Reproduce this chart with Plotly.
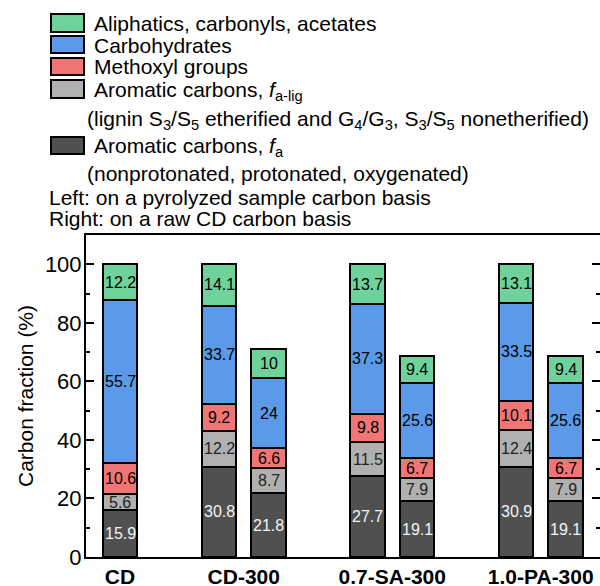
import plotly.graph_objects as go

# ---------------- data ----------------
samples = ["CD", "CD-300", "0.7-SA-300", "1.0-PA-300"]
bar_sample = [0, 1, 1, 2, 2, 3, 3]          # which sample each bar belongs to
bar_basis = ["left", "left", "right", "left", "right", "left", "right"]

aromatic_fa = [15.9, 30.8, 21.8, 27.7, 19.1, 30.9, 19.1]
aromatic_lig = [5.6, 12.2, 8.7, 11.5, 7.9, 12.4, 7.9]
methoxyl = [10.6, 9.2, 6.6, 9.8, 6.7, 10.1, 6.7]
carbohydrates = [55.7, 33.7, 24, 37.3, 25.6, 33.5, 25.6]
aliphatics = [12.2, 14.1, 10, 13.7, 9.4, 13.1, 9.4]

y_ticks = [0, 20, 40, 60, 80, 100]

legend_lines = [
    "Aliphatics, carbonyls, acetates",
    "Carbohydrates",
    "Methoxyl groups",
    "Aromatic carbons, <i>f</i><sub>a-lig</sub>",
    "(lignin S<sub>3</sub>/S<sub>5</sub> etherified and G<sub>4</sub>/G<sub>3</sub>, S<sub>3</sub>/S<sub>5</sub> nonetherified)",
    "Aromatic carbons, <i>f</i><sub>a</sub>",
    "(nonprotonated, protonated, oxygenated)",
    "Left: on a pyrolyzed sample carbon basis",
    "Right: on a raw CD carbon basis",
]

# ---------------- style ----------------
FONT = "Arial, 'Liberation Sans', sans-serif"
C_GREEN = "#6FD29B"
C_BLUE = "#5B9AE8"
C_RED = "#F27575"
C_LGRAY = "#B0B0B0"
C_DGRAY = "#505050"

W, H = 600, 586
ML, MR, MT, MB = 86, 0, 235, 29
PW, PH = W - ML - MR, H - MT - MB

# slot positions (layout): one empty slot between sample groups
pos = []
for g, b in zip(bar_sample, bar_basis):
    p = 3 * g - (1 if g > 0 else 0) + (1 if b == "right" else 0)
    pos.append(p)
group_centers = []
for g in range(len(samples)):
    ps = [p for p, s in zip(pos, bar_sample) if s == g]
    group_centers.append(sum(ps) / len(ps))

SLOT_PX = 49.5
x0 = -(120 - ML) / SLOT_PX
x1 = x0 + PW / SLOT_PX

series = [
    ("Aromatic carbons, fa", aromatic_fa, C_DGRAY, "#f4f4f4"),
    ("Aromatic carbons, fa-lig", aromatic_lig, C_LGRAY, "#222222"),
    ("Methoxyl groups", methoxyl, C_RED, "black"),
    ("Carbohydrates", carbohydrates, C_BLUE, "black"),
    ("Aliphatics", aliphatics, C_GREEN, "black"),
]

fig = go.Figure()
annotations = []
base = [0.0] * len(pos)
for name, vals, col, tcol in series:
    fig.add_trace(go.Bar(
        x=pos, y=vals, name=name, width=0.7,
        marker=dict(color=col, line=dict(color="black", width=2)),
        showlegend=False, hoverinfo="skip",
    ))
    for i, v in enumerate(vals):
        annotations.append(dict(
            text=f"{v:g}", x=pos[i], y=base[i] + v / 2, xref="x", yref="y",
            showarrow=False, xanchor="center", yanchor="middle",
            font=dict(size=16, family=FONT, color=tcol)))
        base[i] += v
# dummy trace to anchor the right-hand axis
fig.add_trace(go.Scatter(x=[None], y=[None], yaxis="y2", showlegend=False,
                         hoverinfo="skip"))


def px_x(px):
    return (px - ML) / PW


def px_y(py):
    return (MT + PH - py) / PH


# manual legend
swatches = [(14, 32, C_GREEN), (36, 53, C_BLUE), (58, 75, C_RED),
            (80, 98, C_LGRAY), (137, 154, C_DGRAY)]
shapes = []
for y0, y1, col in swatches:
    shapes.append(dict(type="rect", xref="paper", yref="paper",
                       x0=px_x(51), x1=px_x(84), y0=px_y(y1), y1=px_y(y0),
                       fillcolor=col, line=dict(color="black", width=2)))

text_pos = [(92, 23), (92, 45), (92, 67), (92, 91), (85, 120),
            (92, 147), (85, 173), (47, 197), (47, 218)]
for txt, (tx, ty) in zip(legend_lines, text_pos):
    annotations.append(dict(text=txt, xref="paper", yref="paper",
                            x=px_x(tx), y=px_y(ty), xanchor="left",
                            yanchor="middle", showarrow=False,
                            font=dict(size=21, family=FONT, color="black")))

yax_common = dict(range=[0, 110], tickvals=y_ticks, ticks="inside", ticklen=8,
                  tickwidth=2, tickcolor="black",
                  minor=dict(ticks="inside", ticklen=4, tickwidth=2,
                             tickcolor="black", tick0=0, dtick=10),
                  showgrid=False, zeroline=False, automargin=False)

fig.update_layout(
    width=W, height=H, margin=dict(l=ML, r=MR, t=MT, b=MB, pad=0),
    barmode="stack", bargap=0,
    plot_bgcolor="white", paper_bgcolor="white",
    font=dict(family=FONT, color="black"),
    xaxis=dict(range=[x0, x1], tickvals=group_centers, ticktext=samples,
               ticks="", showline=True, linecolor="black", linewidth=2,
               mirror=True, showgrid=False, zeroline=False, automargin=False,
               ticklabelstandoff=0,
               tickfont=dict(size=21, family=FONT, color="black", weight="bold")),
    yaxis=dict(**yax_common, showline=True, linecolor="black", linewidth=2,
               ticklabelstandoff=-2,
               tickfont=dict(size=22, family=FONT, color="black"),
               title=dict(text="Carbon fraction (%)", standoff=6,
                          font=dict(size=21, family=FONT, color="black"))),
    yaxis2=dict(**yax_common, overlaying="y", side="right", showline=False,
                showticklabels=False),
    shapes=shapes, annotations=annotations,
)

fig.write_html("out.html")
